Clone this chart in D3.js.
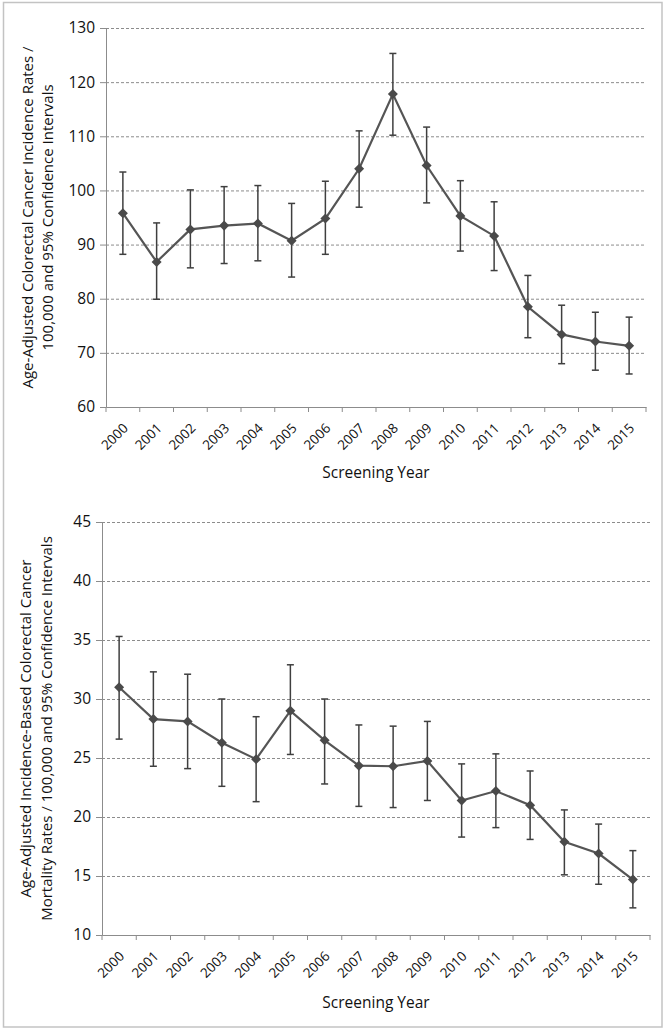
<!DOCTYPE html>
<html><head><meta charset="utf-8">
<script src="https://cdn.jsdelivr.net/npm/d3@7"></script>
<style>
html,body{margin:0;padding:0;background:#fff;}
svg{display:block;}
text{font-family:"Open Sans","Liberation Sans",sans-serif;fill:#111;}
</style></head>
<body>
<svg id="c" width="666" height="1033"></svg>
<script>
const years = ["2000","2001","2002","2003","2004","2005","2006","2007","2008","2009","2010","2011","2012","2013","2014","2015"];

const incidence = [95.8,86.8,92.8,93.5,93.9,90.7,94.8,104.0,117.8,104.6,95.3,91.6,78.5,73.4,72.1,71.3];
const incidenceLow = [88.2,79.9,85.7,86.5,87.0,84.0,88.2,96.9,110.2,97.7,88.8,85.2,72.8,68.0,66.8,66.1];
const incidenceHigh = [103.4,94.0,100.1,100.7,100.9,97.6,101.7,111.0,125.3,111.7,101.8,97.9,84.3,78.8,77.5,76.6];
const incidenceTicks = [60,70,80,90,100,110,120,130];

const mortality = [31.0,28.3,28.1,26.3,24.9,29.0,26.5,24.35,24.3,24.75,21.4,22.2,21.0,17.9,16.9,14.7];
const mortalityLow = [26.6,24.3,24.1,22.6,21.3,25.3,22.8,20.9,20.8,21.4,18.3,19.1,18.1,15.1,14.3,12.3];
const mortalityHigh = [35.3,32.3,32.1,30.0,28.5,32.9,30.0,27.8,27.7,28.1,24.5,25.35,23.9,20.6,19.4,17.15];
const mortalityTicks = [10,15,20,25,30,35,40,45];

const xTitle = "Screening Year";
const topTitle = ["Age-Adjusted Colorectal Cancer Incidence Rates /","100,000  and 95% Confidence Intervals"];
const botTitle = ["Age-Adjusted Incidence-Based Colorectal Cancer","Mortality Rates / 100,000  and 95% Confidence Intervals"];

const svg = d3.select("#c");

// outer frame
svg.append("rect").attr("x",3.5).attr("y",2.5).attr("width",658.5).attr("height",1024.5)
  .attr("fill","none").attr("stroke","#c3c3c3").attr("stroke-width",1.5);

function panel(cfg){
  const g = svg.append("g");
  const x = d3.scaleBand().domain(years).range([cfg.x0,cfg.x1]);
  const y = d3.scaleLinear().domain([cfg.ticks[0],cfg.ticks[cfg.ticks.length-1]]).range([cfg.y1,cfg.y0]);
  // gridlines
  g.selectAll("line.grid").data(cfg.ticks.slice(1)).join("line")
    .attr("x1",cfg.x0).attr("x2",cfg.x1).attr("y1",d=>y(d)+0.5).attr("y2",d=>y(d)+0.5)
    .attr("stroke","#8c8c8c").attr("stroke-width",1).attr("stroke-dasharray","3,2");
  // y axis
  const ya = g.append("g").attr("transform",`translate(${cfg.x0},0)`)
    .call(d3.axisLeft(y).tickValues(cfg.ticks).tickSize(6).tickPadding(5).tickFormat(d3.format("d")));
  ya.select(".domain").attr("stroke","#8c8c8c");
  ya.selectAll(".tick line").attr("stroke","#8c8c8c");
  ya.selectAll(".tick text").attr("font-size",15.5).attr("fill","#111");
  // x axis
  const xa = g.append("g").attr("transform",`translate(0,${cfg.y1})`)
    .call(d3.axisBottom(x).tickSize(0).tickFormat(d=>d));
  xa.select(".domain").attr("stroke","#8c8c8c");
  xa.selectAll(".tick text").attr("font-size",13.5).attr("fill","#111")
    .attr("text-anchor","end").attr("dy",0).attr("y",0)
    .attr("transform","translate(6,22) rotate(-45)");
  // x boundary ticks
  const bounds = years.map(d=>x(d)).concat([cfg.x1]);
  g.selectAll("line.xt").data(bounds).join("line")
    .attr("x1",d=>d).attr("x2",d=>d).attr("y1",cfg.y1).attr("y2",cfg.y1+5)
    .attr("stroke","#8c8c8c");
  const cx = d=>x(d)+x.bandwidth()/2;
  // error bars
  const eb = g.append("g").attr("stroke","#3f3f3f").attr("stroke-width",1.5);
  years.forEach((d,i)=>{
    eb.append("line").attr("x1",cx(d)).attr("x2",cx(d)).attr("y1",y(cfg.lo[i])).attr("y2",y(cfg.hi[i]));
    eb.append("line").attr("x1",cx(d)-3.5).attr("x2",cx(d)+3.5).attr("y1",y(cfg.lo[i])).attr("y2",y(cfg.lo[i]));
    eb.append("line").attr("x1",cx(d)-3.5).attr("x2",cx(d)+3.5).attr("y1",y(cfg.hi[i])).attr("y2",y(cfg.hi[i]));
  });
  // line
  g.append("path").datum(cfg.vals)
    .attr("d",d3.line().x((v,i)=>cx(years[i])).y(v=>y(v)))
    .attr("fill","none").attr("stroke","#555555").attr("stroke-width",2.2);
  // markers
  g.selectAll("path.m").data(cfg.vals).join("path")
    .attr("d",d3.symbol().type(d3.symbolDiamond2).size(64))
    .attr("transform",(v,i)=>`translate(${cx(years[i])},${y(v)})`)
    .attr("fill","#4a4a4a");
  // x title
  g.append("text").attr("x",(cfg.x0+cfg.x1)/2).attr("y",cfg.xtY).attr("text-anchor","middle")
    .attr("font-size",15.5).text(xTitle);
  // y title
  const my = (cfg.y0+cfg.y1)/2;
  cfg.title.forEach((t,i)=>{
    g.append("text").attr("transform",`translate(${cfg.ytX[i]},${my}) rotate(-90)`)
      .attr("text-anchor","middle").attr("dominant-baseline","central")
      .attr("font-size",15).text(t);
  });
}

panel({x0:106,x1:646,y0:28,y1:407,ticks:incidenceTicks,vals:incidence,lo:incidenceLow,hi:incidenceHigh,
  xtY:478,ytX:[27,47],title:topTitle});
panel({x0:102,x1:650,y0:522,y1:935,ticks:mortalityTicks,vals:mortality,lo:mortalityLow,hi:mortalityHigh,
  xtY:1008,ytX:[25,46],title:botTitle});
</script>
</body></html>
